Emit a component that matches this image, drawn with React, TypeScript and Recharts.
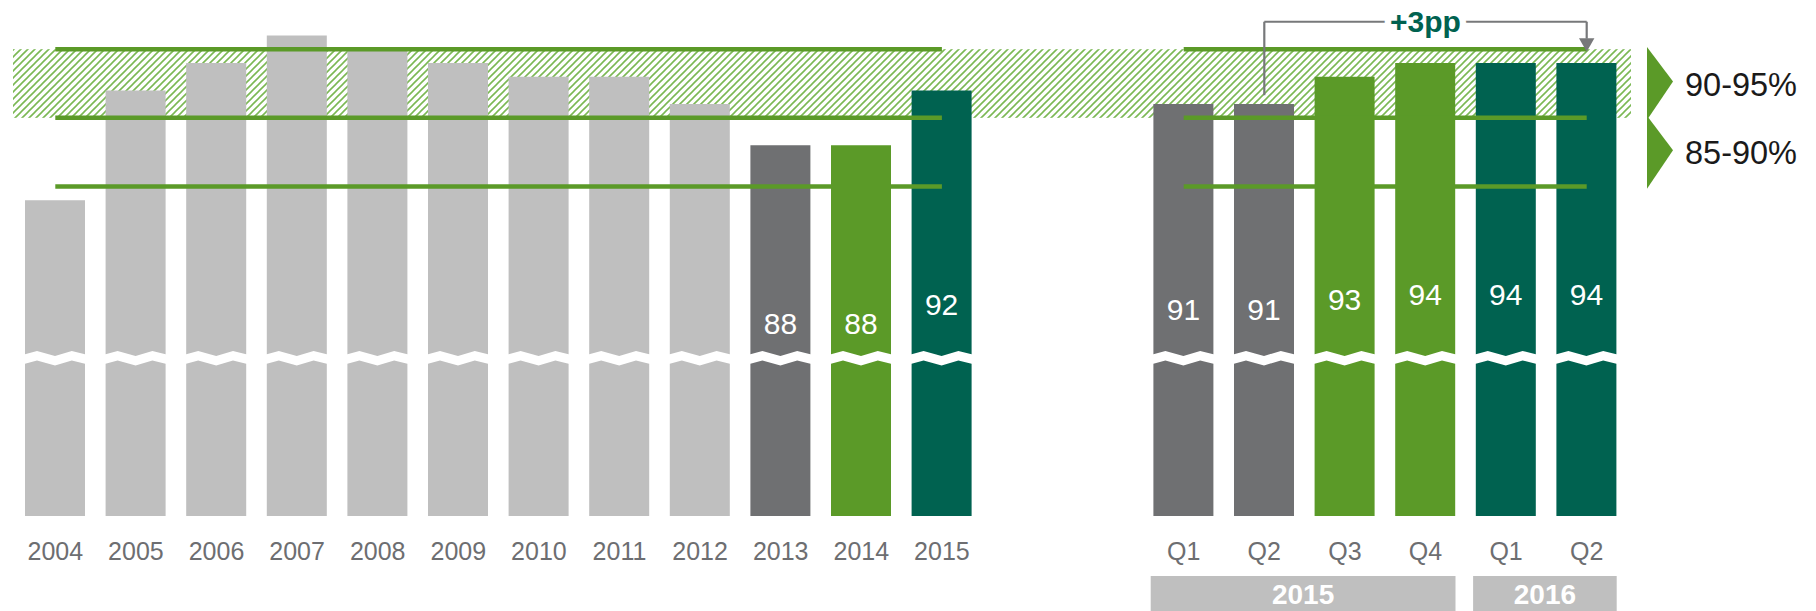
import React from 'react';
import { ComposedChart, Bar, XAxis, YAxis, ReferenceArea, ReferenceLine } from 'recharts';

// annual values (%)
const years = ['2004', '2005', '2006', '2007', '2008', '2009', '2010', '2011', '2012', '2013', '2014', '2015'];
const yearValues = [84, 92, 94, 96, 95, 94, 93, 93, 91, 88, 88, 92];
const labeledYears = ['2013', '2014', '2015'];

// quarterly values (%)
const quarters = ['Q1', 'Q2', 'Q3', 'Q4', 'Q1', 'Q2'];
const quarterYears = ['2015', '2015', '2015', '2015', '2016', '2016'];
const quarterValues = [91, 91, 93, 94, 94, 94];

// target ranges shown on the right
const targetBands = [
  { name: '90-95%', lo: 90, hi: 95 },
  { name: '85-90%', lo: 85, hi: 90 },
];

const LIGHT = '#bfbfbf';
const DARK = '#6f7072';
const GREEN = '#5b9a28';
const TEAL = '#006250';
const yearColors = [LIGHT, LIGHT, LIGHT, LIGHT, LIGHT, LIGHT, LIGHT, LIGHT, LIGHT, DARK, GREEN, TEAL];
const quarterColors = [DARK, DARK, GREEN, GREEN, TEAL, TEAL];

const FONT = "'Liberation Sans', Arial, Helvetica, sans-serif";
const WIDTH = 1816;
const HEIGHT = 611;
const MARGIN = { top: 8, right: 189, bottom: 0, left: 15 };
const BAR_SIZE = 60;
const BREAK_Y = 351; // where the bars are cut
const ARROW_GRAY = '#77787a';

type Row = { key: string; tick: string; group: string; value: number | null; color: string; labeled: boolean };

const rows: Row[] = [
  ...years.map((y, i) => ({
    key: y,
    tick: y,
    group: '',
    value: yearValues[i],
    color: yearColors[i],
    labeled: labeledYears.includes(y),
  })),
  // two empty slots between the yearly and quarterly bars
  { key: 'gap1', tick: '', group: '', value: null, color: 'none', labeled: false },
  { key: 'gap2', tick: '', group: '', value: null, color: 'none', labeled: false },
  ...quarters.map((q, i) => ({
    key: `${quarterYears[i]} ${q}`,
    tick: q,
    group: quarterYears[i],
    value: quarterValues[i],
    color: quarterColors[i],
    labeled: true,
  })),
];

const STEP = (WIDTH - MARGIN.left - MARGIN.right) / rows.length;
const fromKey = `${quarterYears[1]} ${quarters[1]}`;
const toKey = `${quarterYears[5]} ${quarters[5]}`;
const delta = quarterValues[5] - quarterValues[1];
const BRACKET_LEVEL = 97;

// bar with a zig-zag break
const BrokenBar = (props: any) => {
  const { x, y, width, height, payload } = props;
  if (!payload || payload.value == null || !height) return null;
  const bottom = y + height;
  const zig: [number, number][] = [[0, 3.3], [0.2, 0], [0.5, 5], [0.78, 0], [1, 3.3]];
  const gap = 9.5;
  const upperEdge = zig
    .slice()
    .reverse()
    .map(([f, d]) => `L${x + f * width},${BREAK_Y + d}`)
    .join(' ');
  const lowerEdge = zig.map(([f, d], i) => `${i === 0 ? 'M' : 'L'}${x + f * width},${BREAK_Y + d + gap}`).join(' ');
  const upper = `M${x},${y} L${x + width},${y} ${upperEdge} Z`;
  const lower = `${lowerEdge} L${x + width},${bottom} L${x},${bottom} Z`;
  return (
    <g>
      <path d={upper} fill={payload.color} />
      <path d={lower} fill={payload.color} />
      {payload.labeled && (
        <text
          x={x + width / 2}
          y={283 + 0.351 * y}
          textAnchor="middle"
          fill="#fff"
          fontSize={30}
          fontFamily={FONT}
        >
          {payload.value}
        </text>
      )}
    </g>
  );
};

const CategoryTick = (props: any) => {
  const { x, y, payload } = props;
  const row = rows.find((r) => r.key === payload.value);
  return (
    <text x={x} y={y + 44} textAnchor="middle" fill="#6d6e71" fontSize={25} fontFamily={FONT}>
      {row ? row.tick : ''}
    </text>
  );
};

const GroupTick = (props: any) => {
  const { x, y, payload } = props;
  const i = rows.findIndex((r) => r.key === payload.value);
  const g = i >= 0 ? rows[i].group : '';
  if (!g || (i > 0 && rows[i - 1].group === g)) return <g />;
  let n = 1;
  while (rows[i + n] && rows[i + n].group === g) n++;
  const left = x - BAR_SIZE / 2 - 3;
  const right = x + (n - 1) * STEP + BAR_SIZE / 2;
  return (
    <g>
      <rect x={left} y={y + 5} width={right - left} height={40} fill={LIGHT} />
      <text
        x={(left + right) / 2}
        y={y + 33}
        textAnchor="middle"
        fill="#fff"
        fontSize={28}
        fontWeight="bold"
        fontFamily={FONT}
      >
        {g}
      </text>
    </g>
  );
};

const makeBandShape = (name: string, hatched: boolean) => (props: any) => {
  const { x, y, width, height } = props;
  const cy = y + height / 2;
  const px = x + width;
  return (
    <g>
      {hatched && (
        <>
          <defs>
            <pattern id="hatch" patternUnits="userSpaceOnUse" width="7" height="7">
              <rect width="7" height="7" fill="#fff" />
              <path d="M-1,1 l2,-2 M0,7 l7,-7 M6,8 l2,-2" stroke="#7bb854" strokeWidth={1.6} />
            </pattern>
          </defs>
          <rect x={x - 2} y={y} width={width + 6} height={height} fill="url(#hatch)" />
        </>
      )}
      <polygon points={`${px + 20},${cy - 36.5} ${px + 46},${cy - 2} ${px + 20},${cy + 36.5}`} fill={GREEN} />
      <text x={px + 58} y={cy + 12} fill="#1a1a1a" fontSize={32.5} fontFamily={FONT}>
        {name}
      </text>
    </g>
  );
};

const BracketTop = (props: any) => {
  const { x1, y1, x2 } = props;
  return (
    <g>
      <line x1={x1} y1={y1} x2={x2} y2={y1} stroke={ARROW_GRAY} strokeWidth={2.2} />
      <text
        x={(x1 + x2) / 2}
        y={y1 + 10}
        textAnchor="middle"
        fill={TEAL}
        stroke="#fff"
        strokeWidth={13}
        paintOrder="stroke"
        fontSize={30}
        fontWeight="bold"
        fontFamily={FONT}
      >
        {`+${delta}pp`}
      </text>
    </g>
  );
};

const ArrowDown = (props: any) => {
  const { x1, y1, y2 } = props;
  return (
    <g>
      <line x1={x1} y1={y1} x2={x1} y2={y2 - 13} stroke={ARROW_GRAY} strokeWidth={2.2} />
      <polygon points={`${x1 - 7.7},${y2 - 13.5} ${x1 + 7.7},${y2 - 13.5} ${x1},${y2}`} fill={ARROW_GRAY} />
    </g>
  );
};

const targetLevels = [targetBands[0].hi, targetBands[0].lo, targetBands[1].lo];

export default function App() {
  return (
    <div style={{ position: 'absolute', left: 0, top: 0, width: WIDTH, height: HEIGHT, background: '#fff' }}>
      <ComposedChart width={WIDTH} height={HEIGHT} data={rows} margin={MARGIN}>
        <XAxis
          dataKey="key"
          interval={0}
          axisLine={false}
          tickLine={false}
          tickSize={0}
          tickMargin={0}
          height={55}
          tick={<CategoryTick />}
        />
        <XAxis
          xAxisId="group"
          dataKey="key"
          interval={0}
          axisLine={false}
          tickLine={false}
          tickSize={0}
          tickMargin={0}
          height={40}
          tick={<GroupTick />}
        />
        <YAxis hide type="number" domain={[61, 98]} allowDataOverflow />

        {targetBands.map((b, i) => (
          <ReferenceArea
            key={b.name}
            y1={b.lo}
            y2={b.hi}
            fill="none"
            stroke="none"
            shape={makeBandShape(b.name, i === 0)}
          />
        ))}

        <Bar dataKey="value" barSize={BAR_SIZE} isAnimationActive={false} shape={BrokenBar} />

        {targetLevels.map((lvl) => (
          <ReferenceLine
            key={`l${lvl}`}
            segment={[{ x: years[0], y: lvl }, { x: years[years.length - 1], y: lvl }]}
            stroke={GREEN}
            strokeWidth={4.5}
          />
        ))}
        {targetLevels.map((lvl) => (
          <ReferenceLine
            key={`r${lvl}`}
            segment={[{ x: `${quarterYears[0]} ${quarters[0]}`, y: lvl }, { x: toKey, y: lvl }]}
            stroke={GREEN}
            strokeWidth={4.5}
          />
        ))}

        <ReferenceLine
          segment={[{ x: fromKey, y: quarterValues[1] + 0.65 }, { x: fromKey, y: BRACKET_LEVEL }]}
          stroke={ARROW_GRAY}
          strokeWidth={2.2}
        />
        <ReferenceLine
          segment={[{ x: fromKey, y: BRACKET_LEVEL }, { x: toKey, y: BRACKET_LEVEL }]}
          shape={BracketTop}
        />
        <ReferenceLine
          segment={[{ x: toKey, y: BRACKET_LEVEL }, { x: toKey, y: targetBands[0].hi - 0.18 }]}
          shape={ArrowDown}
        />
      </ComposedChart>
    </div>
  );
}
